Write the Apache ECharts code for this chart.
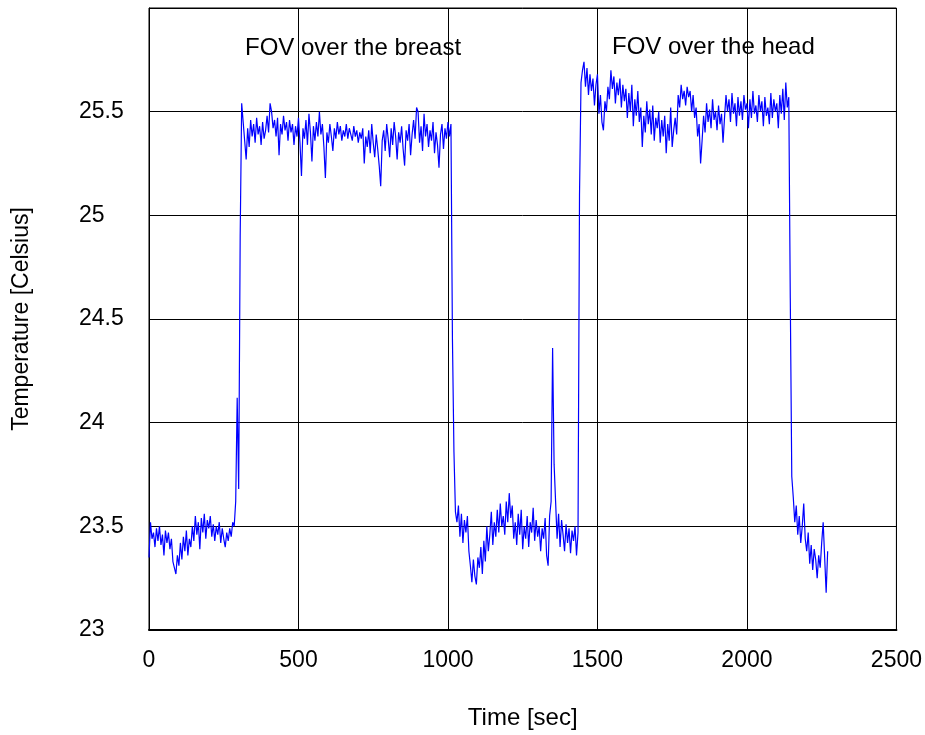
<!DOCTYPE html>
<html>
<head>
<meta charset="utf-8">
<script src="https://cdn.jsdelivr.net/npm/echarts@6/dist/echarts.min.js"></script>
<style>
html,body{margin:0;padding:0;background:#fff;}
#chart{width:925px;height:735px;}
</style>
</head>
<body>
<div id="chart"></div>
<script>
// Sample spacing of the recorded trace (seconds)
var startTime = 0;
var stepSec = 5;
// Temperature readings [Celsius], one every stepSec seconds
var temperature = [
23.35,23.52,23.44,23.47,23.40,23.49,23.43,23.50,23.41,23.46,
23.36,23.48,23.42,23.47,23.39,23.44,23.33,23.30,23.27,23.36,
23.31,23.42,23.34,23.45,23.38,23.48,23.36,23.44,23.40,23.50,
23.43,23.55,23.46,23.52,23.39,23.54,23.47,23.56,23.44,23.53,
23.49,23.55,23.45,23.51,23.43,23.50,23.46,23.52,23.42,23.49,
23.44,23.40,23.47,23.43,23.49,23.45,23.52,23.50,23.62,24.12,
23.68,24.90,25.54,25.45,25.36,25.27,25.42,25.33,25.46,25.38,
25.44,25.35,25.47,25.39,25.43,25.34,25.45,25.37,25.41,25.48,
25.40,25.54,25.50,25.42,25.46,25.38,25.47,25.29,25.44,25.39,
25.48,25.41,25.45,25.36,25.46,25.40,25.44,25.34,25.43,25.38,
25.47,25.35,25.19,25.42,25.37,25.46,25.34,25.49,25.40,25.26,
25.43,25.36,25.45,25.38,25.50,25.39,25.44,25.33,25.18,25.40,
25.35,25.44,25.38,25.31,25.42,25.37,25.45,25.39,25.43,25.36,
25.41,25.38,25.44,25.37,25.42,25.39,25.36,25.43,25.38,25.41,
25.35,25.40,25.37,25.42,25.25,25.38,25.33,25.41,25.30,25.44,
25.35,25.28,25.39,25.32,25.24,25.14,25.36,25.41,25.31,25.44,
25.37,25.28,25.42,25.34,25.45,25.38,25.27,25.40,25.35,25.43,
25.32,25.24,25.41,25.36,25.44,25.29,25.39,25.46,25.37,25.52,
25.50,25.35,25.43,25.31,25.49,25.38,25.44,25.33,25.41,25.36,
25.45,25.30,25.40,25.34,25.23,25.39,25.44,25.32,25.42,25.37,
25.45,25.38,25.44,24.40,23.86,23.57,23.52,23.60,23.45,23.56,
23.42,23.53,23.47,23.55,23.38,23.31,23.23,23.34,23.26,23.22,
23.35,23.30,23.40,23.27,23.43,23.33,23.50,23.38,23.46,23.57,
23.41,23.52,23.45,23.58,23.47,23.61,23.50,23.55,23.46,23.62,
23.52,23.66,23.54,23.60,23.44,23.52,23.41,23.56,23.46,23.58,
23.39,23.50,23.44,23.55,23.40,23.52,23.47,23.59,23.43,23.53,
23.45,23.50,23.38,23.49,23.44,23.54,23.36,23.31,23.55,23.62,
24.36,23.80,23.62,23.44,23.56,23.40,23.53,23.46,23.38,23.51,
23.42,23.49,23.37,23.48,23.43,23.50,23.36,23.47,25.10,25.64,
25.70,25.74,25.62,25.71,25.58,25.68,25.60,25.66,25.53,25.63,
25.68,25.49,25.58,25.45,25.41,25.55,25.50,25.62,25.56,25.70,
25.61,25.67,25.54,25.64,25.58,25.66,25.52,25.63,25.55,25.61,
25.47,25.59,25.50,25.63,25.43,25.56,25.48,25.60,25.45,25.52,
25.33,25.48,25.40,25.55,25.44,25.51,25.39,25.53,25.36,25.47,
25.42,25.50,25.35,25.46,25.38,25.48,25.30,25.44,25.36,25.52,
25.33,25.41,25.47,25.39,25.58,25.52,25.63,25.56,25.60,25.53,
25.62,25.57,25.60,25.50,25.58,25.47,25.52,25.38,25.44,25.25,
25.36,25.48,25.40,25.54,25.45,25.51,25.42,25.56,25.46,25.50,
25.41,25.53,25.44,25.49,25.35,25.47,25.58,25.50,25.56,25.45,
25.59,25.49,25.54,25.43,25.57,25.48,25.55,25.46,25.58,25.51,
25.54,25.42,25.56,25.47,25.60,25.49,25.53,25.45,25.58,25.50,
25.55,25.43,25.57,25.48,25.52,25.44,25.59,25.47,25.56,25.50,
25.54,25.42,25.58,25.49,25.61,25.46,25.64,25.52,25.57,24.60,
23.74,23.64,23.52,23.60,23.46,23.55,23.42,23.50,23.61,23.44,
23.38,23.47,23.32,23.41,23.29,23.39,23.34,23.25,23.36,23.30,
23.42,23.52,23.35,23.18,23.38
];
var xTicks = [0, 500, 1000, 1500, 2000, 2500];
var yTicks = [23, 23.5, 24, 24.5, 25, 25.5];
var annotations = ['FOV over the breast', 'FOV over the head'];
var xTitle = 'Time [sec]';
var yTitle = 'Temperature [Celsius]';

var seriesData = temperature.map(function (v, i) { return [startTime + i * stepSec, v]; });
var font = '"Liberation Sans", Arial, Helvetica, sans-serif';

var chart = echarts.init(document.getElementById('chart'));
chart.setOption({
  animation: false,
  backgroundColor: '#ffffff',
  grid: { left: 149, right: 24, top: 8, bottom: 102, show: true, borderColor: '#000', borderWidth: 1, containLabel: false },
  xAxis: {
    type: 'value', min: xTicks[0], max: xTicks[xTicks.length - 1], interval: 500,
    name: xTitle, nameLocation: 'middle', nameGap: 76,
    nameTextStyle: { fontFamily: font, fontSize: 24, color: '#000' },
    axisLine: { show: true, lineStyle: { color: '#000', width: 2 } },
    axisTick: { show: false },
    splitLine: { show: true, lineStyle: { color: '#000', width: 1 } },
    axisLabel: {
      fontFamily: font, fontSize: 23, color: '#000', margin: 19,
      formatter: function (v) { return String(v); }
    }
  },
  yAxis: {
    type: 'value', min: 23, max: 26, interval: 0.5,
    name: yTitle, nameLocation: 'middle', nameGap: 116, nameRotate: 90,
    nameTextStyle: { fontFamily: font, fontSize: 23, color: '#000' },
    axisLine: { show: true, lineStyle: { color: '#000', width: 1 } },
    axisTick: { show: false },
    splitLine: { show: true, lineStyle: { color: '#000', width: 1 } },
    axisLabel: {
      fontFamily: font, fontSize: 23, color: '#000', margin: 70, align: 'left',
      padding: [0, 0, 8, 0],
      formatter: function (v) { return yTicks.indexOf(v) >= 0 ? String(v) : ''; }
    }
  },
  graphic: [
    { type: 'text', left: 245, top: 36, style: { text: annotations[0], font: '24px ' + font, fill: '#000' } },
    { type: 'text', left: 612, top: 35, style: { text: annotations[1], font: '24px ' + font, fill: '#000' } }
  ],
  series: [{
    type: 'line', data: seriesData, showSymbol: false, symbol: 'none',
    lineStyle: { color: '#0000ff', width: 1.2 }, z: 3
  }]
});
</script>
</body>
</html>
